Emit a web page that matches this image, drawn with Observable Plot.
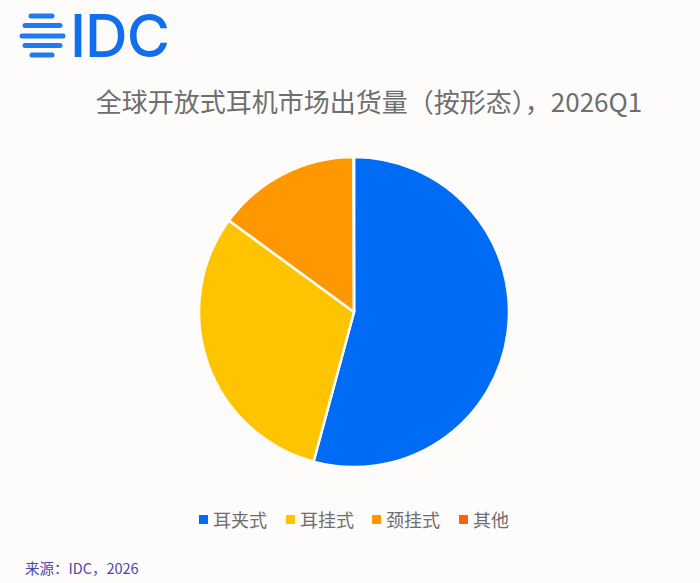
<!DOCTYPE html>
<html lang="zh">
<head>
<meta charset="utf-8">
<script src="https://cdn.jsdelivr.net/npm/d3@7"></script>
<script src="https://cdn.jsdelivr.net/npm/@observablehq/plot@0.6"></script>
<style>
  html, body { margin: 0; padding: 0; background: #fdfcfb; }
  #page { position: relative; width: 700px; height: 583px; overflow: hidden; font-family: "Noto Sans CJK SC", "Noto Sans", sans-serif; }
  #page > * { position: absolute; }
  #logoText { left: 70px; top: 1px; font: 500 59px/70px Inter, sans-serif; color: #0f6fec; letter-spacing: -1px; }
  #title { left: 0; width: 738px; top: 82px; text-align: center; font-size: 26px; line-height: 38px; color: #6e6e6e; white-space: nowrap; }
  #chart { left: 0; top: 140px; }
  .lg { top: 506px; font-size: 18px; line-height: 26px; color: #6e6e6e; white-space: nowrap; }
  .sw { top: 515px; width: 9px; height: 9px; }
  #source { left: 25px; top: 557px; font-size: 14.5px; line-height: 22px; color: #4a4aa6; white-space: nowrap; }
</style>
</head>
<body>
<div id="page"></div>
<script>
const categories = ["耳夹式", "耳挂式", "颈挂式", "其他"];
const shares = [54.2, 30.85, 14.9, 0.05];
const colors = ["#006bf5", "#ffc400", "#ff9800", "#f7650f"];
const titleText = "全球开放式耳机市场出货量（按形态），2026Q1";
const sourceText = "来源：IDC，2026";
const logoStripes = [[31, 52, 16], [25, 60, 25.5], [22, 63, 36], [25, 60, 45.5], [32, 52, 55]];
const legendSwatchX = [199, 286, 372, 459];
const legendTextX = [213, 300, 386, 473];

const slices = categories.map((name, i) => ({name, share: shares[i]}));
const page = document.getElementById("page");

// Logo
const ns = "http://www.w3.org/2000/svg";
const globe = document.createElementNS(ns, "svg");
globe.setAttribute("width", 70); globe.setAttribute("height", 70);
globe.style.left = "0"; globe.style.top = "0";
for (const [a, b, y] of logoStripes) {
  const l = document.createElementNS(ns, "line");
  l.setAttribute("x1", a); l.setAttribute("x2", b);
  l.setAttribute("y1", y); l.setAttribute("y2", y);
  l.setAttribute("stroke", "#1f7bee"); l.setAttribute("stroke-width", 5);
  l.setAttribute("stroke-linecap", "round");
  globe.appendChild(l);
}
page.appendChild(globe);
const logo = document.createElement("div");
logo.id = "logoText"; logo.textContent = "IDC";
page.appendChild(logo);

// Title
const title = document.createElement("div");
title.id = "title"; title.textContent = titleText;
page.appendChild(title);

// Pie, drawn through Plot's colour scale with d3.pie layout
const radius = 155;
const pieMark = Plot.dot(slices, {
  x: () => 0, y: () => 0, fill: "name",
  render(index, scales, values, dimensions) {
    const cx = (dimensions.marginLeft + dimensions.width - dimensions.marginRight) / 2;
    const cy = (dimensions.marginTop + dimensions.height - dimensions.marginBottom) / 2;
    const arcs = d3.pie().sort(null).value(d => d.share)(slices);
    const arc = d3.arc().innerRadius(0).outerRadius(radius);
    const g = d3.create("svg:g").attr("transform", `translate(${cx},${cy})`);
    g.selectAll("path").data(arcs).join("path")
      .attr("d", arc)
      .attr("fill", d => scales.color(d.data.name))
      .attr("stroke", "#fdfcfb")
      .attr("stroke-width", 2.5)
      .attr("stroke-linejoin", "round");
    return g.node();
  }
});
const chart = Plot.plot({
  width: 700, height: 344,
  marginLeft: 8, marginRight: 0, marginTop: 0, marginBottom: 0,
  style: {background: "transparent"},
  x: {axis: null}, y: {axis: null},
  color: {domain: categories, range: colors},
  marks: [pieMark]
});
chart.id = "chart";
page.appendChild(chart);

// Legend
categories.forEach((name, i) => {
  const s = document.createElement("div");
  s.className = "sw"; s.style.left = legendSwatchX[i] + "px"; s.style.background = colors[i];
  page.appendChild(s);
  const t = document.createElement("div");
  t.className = "lg"; t.style.left = legendTextX[i] + "px"; t.textContent = name;
  page.appendChild(t);
});

// Source
const src = document.createElement("div");
src.id = "source"; src.textContent = sourceText;
page.appendChild(src);
</script>
</body>
</html>
